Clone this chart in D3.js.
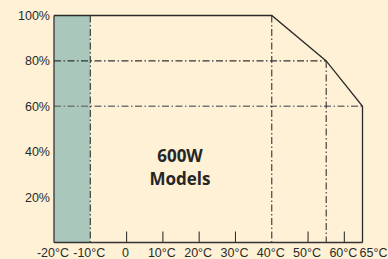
<!DOCTYPE html>
<html lang="en">
<head>
<meta charset="UTF-8">
<title>600W Models derating</title>
<script src="https://d3js.org/d3.v7.min.js"></script>
<style>
  html, body { margin: 0; padding: 0; background: #fef1d6; overflow: hidden; }
  svg { display: block; font-family: 'Liberation Sans', Arial, sans-serif; }
  .lbl { font-size: 12.5px; fill: #2a2a2a; }
  .title { font-family: 'Open Sans', sans-serif; font-weight: 700; font-size: 17px; fill: #262626; }
</style>
</head>
<body>
<div id="chart"></div>
<script>
  // derating curve
  const curveTemp = [-20, 40, 55, 65, 65];
  const curveLoad = [100, 100, 80, 60, 0];
  // x ticks
  const xTicks = [-20, -10, 0, 10, 20, 30, 40, 50, 60, 65];
  const xTickLabels = ["-20°C", "-10°C", "0", "10°C", "20°C", "30°C", "40°C", "50°C", "60°C", "65°C"];
  const shortTicks = [0, 10, 20, 30, 50, 60];
  // y ticks
  const yTicks = [20, 40, 60, 80, 100];
  const yTickLabels = ["20%", "40%", "60%", "80%", "100%"];
  // cold start zone
  const coldZone = [-20, -10];

  const W = 388, H = 259;
  const x = d3.scaleLinear().domain([-20, 65]).range([54, 362.5]);
  const y = d3.scaleLinear().domain([0, 100]).range([242.5, 15.5]);

  const svg = d3.select("#chart").append("svg")
    .attr("width", W).attr("height", H);

  svg.append("rect").attr("width", W).attr("height", H).attr("fill", "#fef1d6");

  // shaded zone
  svg.append("rect")
    .attr("x", x(coldZone[0]))
    .attr("y", y(100))
    .attr("width", x(coldZone[1]) - x(coldZone[0]))
    .attr("height", y(0) - y(100))
    .attr("fill", "#a9c7bb");

  const dash = "7,2.5,1.5,2.5";

  // horizontal guide lines
  svg.append("line")
    .attr("x1", x(-20)).attr("x2", x(curveTemp[2]))
    .attr("y1", y(curveLoad[2])).attr("y2", y(curveLoad[2]))
    .attr("stroke", "#333").attr("stroke-width", 1.3).attr("stroke-dasharray", dash);
  svg.append("line")
    .attr("x1", x(-20)).attr("x2", x(curveTemp[3]))
    .attr("y1", y(curveLoad[3])).attr("y2", y(curveLoad[3]))
    .attr("stroke", "#777").attr("stroke-width", 1.6).attr("stroke-dasharray", dash);

  // vertical guide lines
  const vGuides = [[coldZone[1], 100], [curveTemp[1], curveLoad[1]], [curveTemp[2], curveLoad[2]]];
  svg.selectAll(".vguide").data(vGuides).enter().append("line")
    .attr("class", "vguide")
    .attr("x1", d => x(d[0])).attr("x2", d => x(d[0]))
    .attr("y1", d => y(d[1])).attr("y2", y(0))
    .attr("stroke", "#333").attr("stroke-width", 1.1).attr("stroke-dasharray", dash);

  // short ticks
  svg.selectAll(".tk").data(shortTicks).enter().append("line")
    .attr("class", "tk")
    .attr("x1", d => x(d)).attr("x2", d => x(d))
    .attr("y1", y(0)).attr("y2", y(0) - 11)
    .attr("stroke", "#333").attr("stroke-width", 1.1);

  // axes
  svg.append("line")
    .attr("x1", x(-20)).attr("x2", x(-20))
    .attr("y1", y(0)).attr("y2", y(100))
    .attr("stroke", "#333").attr("stroke-width", 1.3);
  svg.append("line")
    .attr("x1", x(-20)).attr("x2", x(65))
    .attr("y1", y(0)).attr("y2", y(0))
    .attr("stroke", "#333").attr("stroke-width", 1.3);

  // curve
  const line = d3.line().x((d, i) => x(curveTemp[i])).y(d => y(d));
  svg.append("path")
    .datum(curveLoad)
    .attr("d", line)
    .attr("fill", "none")
    .attr("stroke", "#2a2a2a")
    .attr("stroke-width", 1.3);

  // y labels
  svg.selectAll(".ylbl").data(yTicks).enter().append("text")
    .attr("class", "lbl")
    .attr("x", x(-20) - 4)
    .attr("y", d => y(d))
    .attr("dy", "0.36em")
    .attr("text-anchor", "end")
    .text((d, i) => yTickLabels[i]);

  // x labels
  svg.selectAll(".xlbl").data(xTicks).enter().append("text")
    .attr("class", "lbl")
    .attr("x", d => x(d))
    .attr("dx", (d, i) => i === xTicks.length - 1 ? 11 : -1)
    .attr("y", y(0) + 14.5)
    .attr("text-anchor", "middle")
    .text((d, i) => xTickLabels[i]);

  // title
  const t = svg.append("text").attr("class", "title").attr("text-anchor", "middle");
  t.append("tspan").attr("x", 180).attr("y", 162).text("600W");
  t.append("tspan").attr("x", 180).attr("y", 185).text("Models");
</script>
</body>
</html>
